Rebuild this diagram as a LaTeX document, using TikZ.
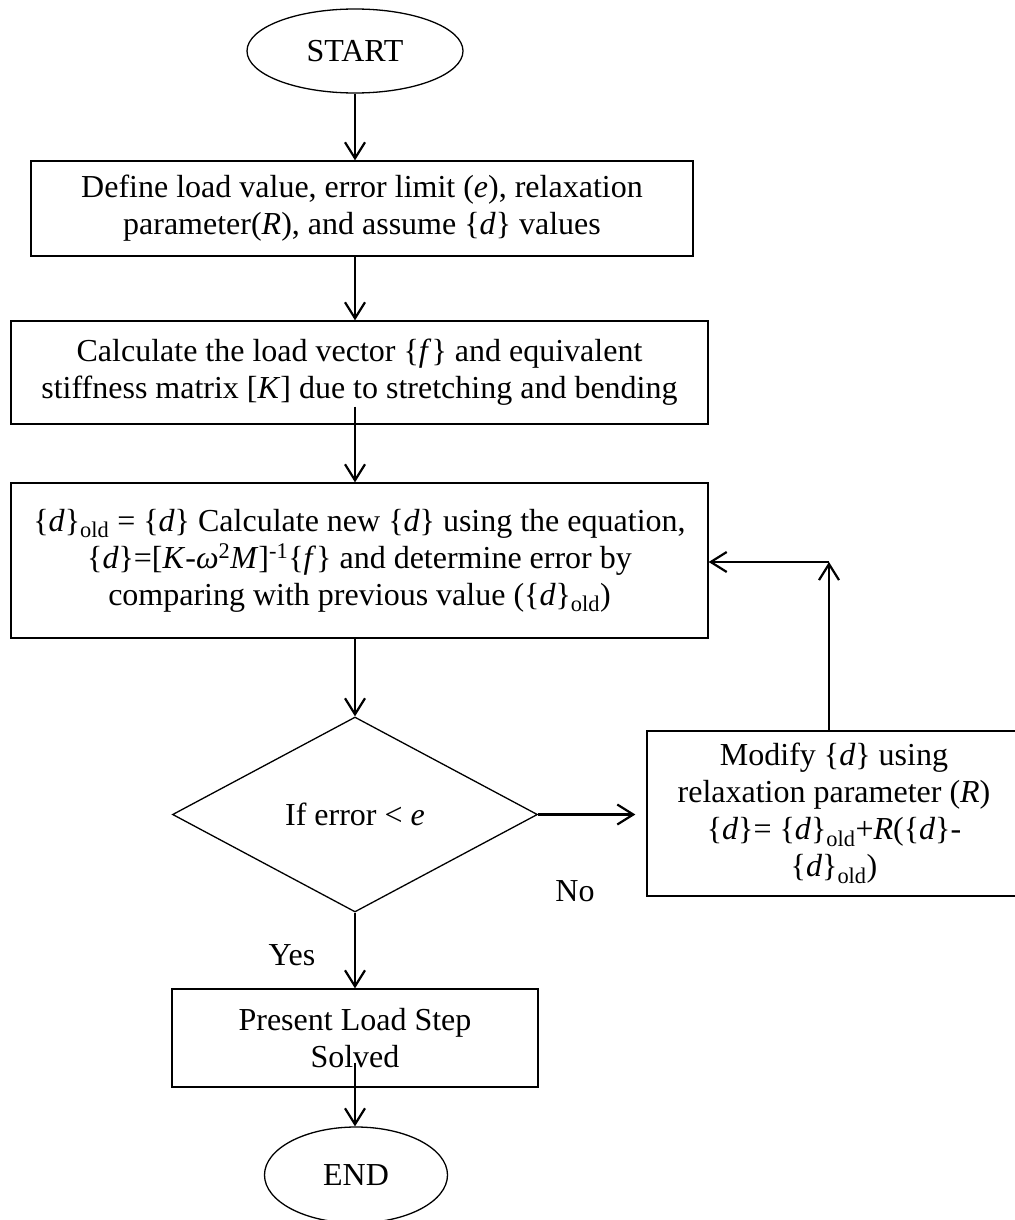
\documentclass[tikz,border=0pt]{standalone}
\usepackage{fontspec}
\setmainfont{Liberation Serif}
\usepackage{tikz}
\usetikzlibrary{shapes, arrows.meta, positioning, calc}

\newcommand{\dvec}{\{\textit{d}\}}

\begin{document}
\begin{tikzpicture}[x=1pt, y=-1pt,
  every node/.style={font=\fontsize{32}{37}\selectfont},
  box/.style={draw, rectangle, line width=1.3pt, inner sep=0pt, align=center},
  term/.style={draw, ellipse, line width=1.3pt, inner sep=0pt},
  decision/.style={draw, diamond, line width=1.3pt, inner sep=0pt, aspect=1.87},
  flow/.style={-{Straight Barb[length=16pt, width=20pt]}, line width=2.2pt}]
\useasboundingbox (0,0) rectangle (1014,1220);

% Main column
\node[term, minimum width=216pt, minimum height=84pt] (start) at (355,51) {START};
\node[box, minimum width=662pt, minimum height=95pt] (define) at (362,208.5)
  {Define load value, error limit (\textit{e}), relaxation\\parameter(\textit{R}), and assume \dvec{} values};
\node[box, minimum width=697pt, minimum height=103pt] (loadvec) at (359.5,372.5)
  {Calculate the load vector \{\textit{f}\} and equivalent\\stiffness matrix [\textit{K}] due to stretching and bending};
\node[box, minimum width=697pt, minimum height=155pt] (solve) at (359.5,560.5)
  {\dvec\textsubscript{old} = \dvec{} Calculate new \dvec{} using the equation,\\
   \dvec=[\textit{K}-\textit{ω}\textsuperscript{2}\textit{M}]\textsuperscript{-1}\{\textit{f}\} and determine error by\\
   comparing with previous value (\dvec\textsubscript{old})};
\node[decision, minimum width=365pt, minimum height=195pt] (check) at (355,814.5) {If error < \textit{e}};
\node[box, minimum width=366pt, minimum height=98pt] (done) at (355,1038) {Present Load Step\\Solved};
\node[term, minimum width=183pt, minimum height=96pt] (stop) at (356,1175) {END};

% Relaxation branch
\node[box, minimum width=374pt, minimum height=165pt] (modify) at (834,813.5)
  {Modify \dvec{} using\\relaxation parameter (\textit{R})\\\dvec= \dvec\textsubscript{old}+\textit{R}(\dvec-\\\dvec\textsubscript{old})};
\coordinate (bend) at (829,562);

% Labels
\node (yes) at (292,955) {Yes};
\node (no) at (575,891) {No};

% Arrows
\draw[flow] (start.south) -- (start.south |- define.north);
\draw[flow] (start.south |- define.south) -- (start.south |- loadvec.north);
\draw[flow] ([yshift=18pt]start.south |- loadvec.south) -- (start.south |- solve.north);
\draw[flow] (check.north |- solve.south) -- (check.north);
\draw[flow] (check.south) -- (check.south |- done.north);
\draw[flow] ([yshift=25pt]check.south |- done.south) -- (check.south |- stop.north);
\draw[flow] (check.east) -- ([xshift=-11pt]modify.west |- check.east);
\draw[flow] (bend |- modify.north) -- (bend);
\draw[flow] (bend) -- (solve.east |- bend);
\end{tikzpicture}
\end{document}
